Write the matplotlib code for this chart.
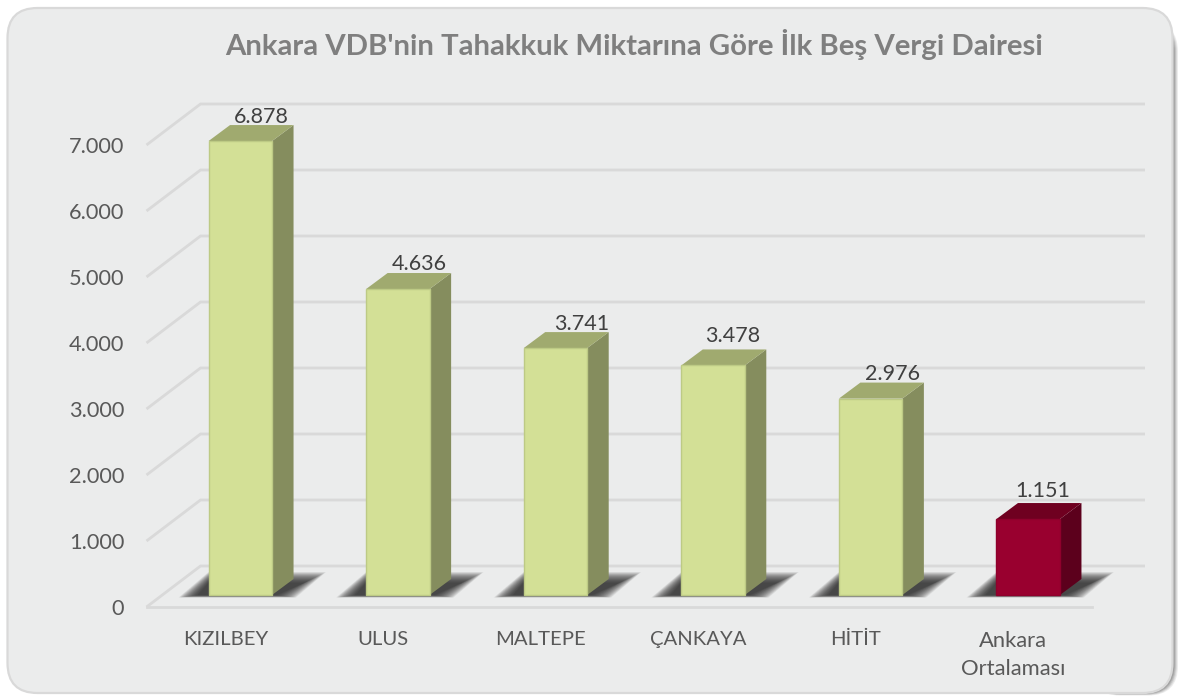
import matplotlib
matplotlib.use("Agg")
import matplotlib.pyplot as plt
from matplotlib.patches import FancyBboxPatch, Polygon

categories = ["KIZILBEY", "ULUS", "MALTEPE", "ÇANKAYA", "HİTİT", "Ankara\nOrtalaması"]
values = [6878, 4636, 3741, 3478, 2976, 1151]
value_labels = ["6.878", "4.636", "3.741", "3.478", "2.976", "1.151"]
y_ticks = [0, 1000, 2000, 3000, 4000, 5000, 6000, 7000]
y_tick_labels = ["0", "1.000", "2.000", "3.000", "4.000", "5.000", "6.000", "7.000"]
title = "Ankara VDB'nin Tahakkuk Miktarına Göre İlk Beş Vergi Dairesi"

W, H = 1183, 697
plt.rcParams["font.family"] = ["Lato", "DejaVu Sans"]
fig = plt.figure(figsize=(W / 100, H / 100), dpi=100, facecolor="white")

# panel with its soft shadow at the lower right
bg = fig.add_axes([0, 0, 1, 1])
bg.set_xlim(0, W); bg.set_ylim(H, 0); bg.axis("off")
for grow, col in [(5, "#ececec"), (4, "#d8d8d8"), (3, "#c0c0c0"), (2, "#a8a8a8"), (1, "#989898")]:
    bg.add_patch(FancyBboxPatch((1090, 22), 83 + grow, 671 + grow * 0.5,
                                boxstyle="round,pad=0,rounding_size=30", fc=col, ec="none"))
bg.add_patch(FancyBboxPatch((7.5, 8), 1165, 685,
                            boxstyle="round,pad=0,rounding_size=30", fc="#ebecec", ec="#d9d9d9", lw=1.6))
bg.text(634.5, 44, title, ha="center", va="center", fontsize=21.2, fontweight="bold", color="#7f7f7f")

# plot area: front plane of the 3D box
L, R, B, T = 146.5, 1092, 607, 145
ax = fig.add_axes([L / W, 1 - B / H, (R - L) / W, (B - T) / H], facecolor="none")
ax.set_xlim(-0.5, 5.5)
ax.set_ylim(0, 7000)
for s in ax.spines.values():
    s.set_visible(False)
ax.set_xticks(range(len(categories)), categories)
ax.set_yticks(y_ticks, y_tick_labels)
ax.tick_params(axis="x", length=0, pad=17, labelsize=14.6, labelcolor="#595959")
ax.tick_params(axis="y", length=0, pad=16, labelsize=15.7, labelcolor="#595959")
last = ax.get_xticklabels()[-1]
last.set_fontsize(15.8)
last.set_linespacing(1.55)

px = (R - L) / 6        # pixels per category
py = (B - T) / 7000     # pixels per value unit
gx, gy = 54 / px, 41 / py      # depth of the box
ox, oy = 15 / px, 12 / py      # bar plane relative to the front plane
dx, dy = 21.5 / px, 16 / py    # bar depth
bw = 63.5 / px
grid = "#d9d9d9"

right_back = 5.5 + 53 / px
for v in y_ticks:
    ax.plot([-0.5, -0.5 + gx, right_back], [v, v + gy, v + gy], color=grid, lw=2,
            clip_on=False, zorder=1, solid_capstyle="butt", solid_joinstyle="miter")
ax.plot([-0.5, 5.5], [0, 0], color=grid, lw=2, clip_on=False, zorder=1)

front = ["#d3e096"] * 5 + ["#99002f"]
edge = ["#bdca85"] * 5 + ["#8f002c"]
top = ["#a0aa6f"] * 5 + ["#6f0020"]
side = ["#858d5e"] * 5 + ["#5c001c"]
label_off = [(21, 8), (21, 9), (26, 8), (20, 13.5), (22, 9), (15, 12)]

for i, v in enumerate(values):
    xc = i + ox
    base = oy
    x0, x1 = xc - bw / 2, xc + bw / 2
    # soft floor shadow made of stacked translucent polygons
    n = 28
    for k in range(n):
        t = k / (n - 1)
        bot = base - (2.5 - 2.5 * t) / py
        topy = base + (23 - 11 * t) / py
        lb = x0 - (30 - 20 * t) / px
        lt = x0
        rb = x1 + (24 - 20 * t) / px
        rt = x1 + (54 - 22 * t) / px
        ax.add_patch(Polygon([(lb, bot), (rb, bot), (rt, topy), (lt, topy)],
                             fc="#2a2a2a", ec="none", alpha=0.06, zorder=2, clip_on=False))
    ax.add_patch(Polygon([(x1, base), (x1 + dx, base + dy), (x1 + dx, base + v + dy), (x1, base + v)],
                         fc=side[i], ec="none", zorder=3, clip_on=False))
    ax.add_patch(Polygon([(x0, base + v), (x1, base + v), (x1 + dx, base + v + dy), (x0 + dx, base + v + dy)],
                         fc=top[i], ec="none", zorder=3, clip_on=False))
    ax.bar(xc, v, bw, bottom=base, color=front[i], edgecolor=edge[i], linewidth=1, zorder=4, clip_on=False)
    lx, ly = label_off[i]
    ax.annotate(value_labels[i], (xc, base + v + dy), xytext=(lx * 0.72, ly * 0.72), textcoords="offset points",
                ha="center", va="center", fontsize=15.5, color="#404040", zorder=6, annotation_clip=False)

fig.savefig("out.png", dpi=100)
